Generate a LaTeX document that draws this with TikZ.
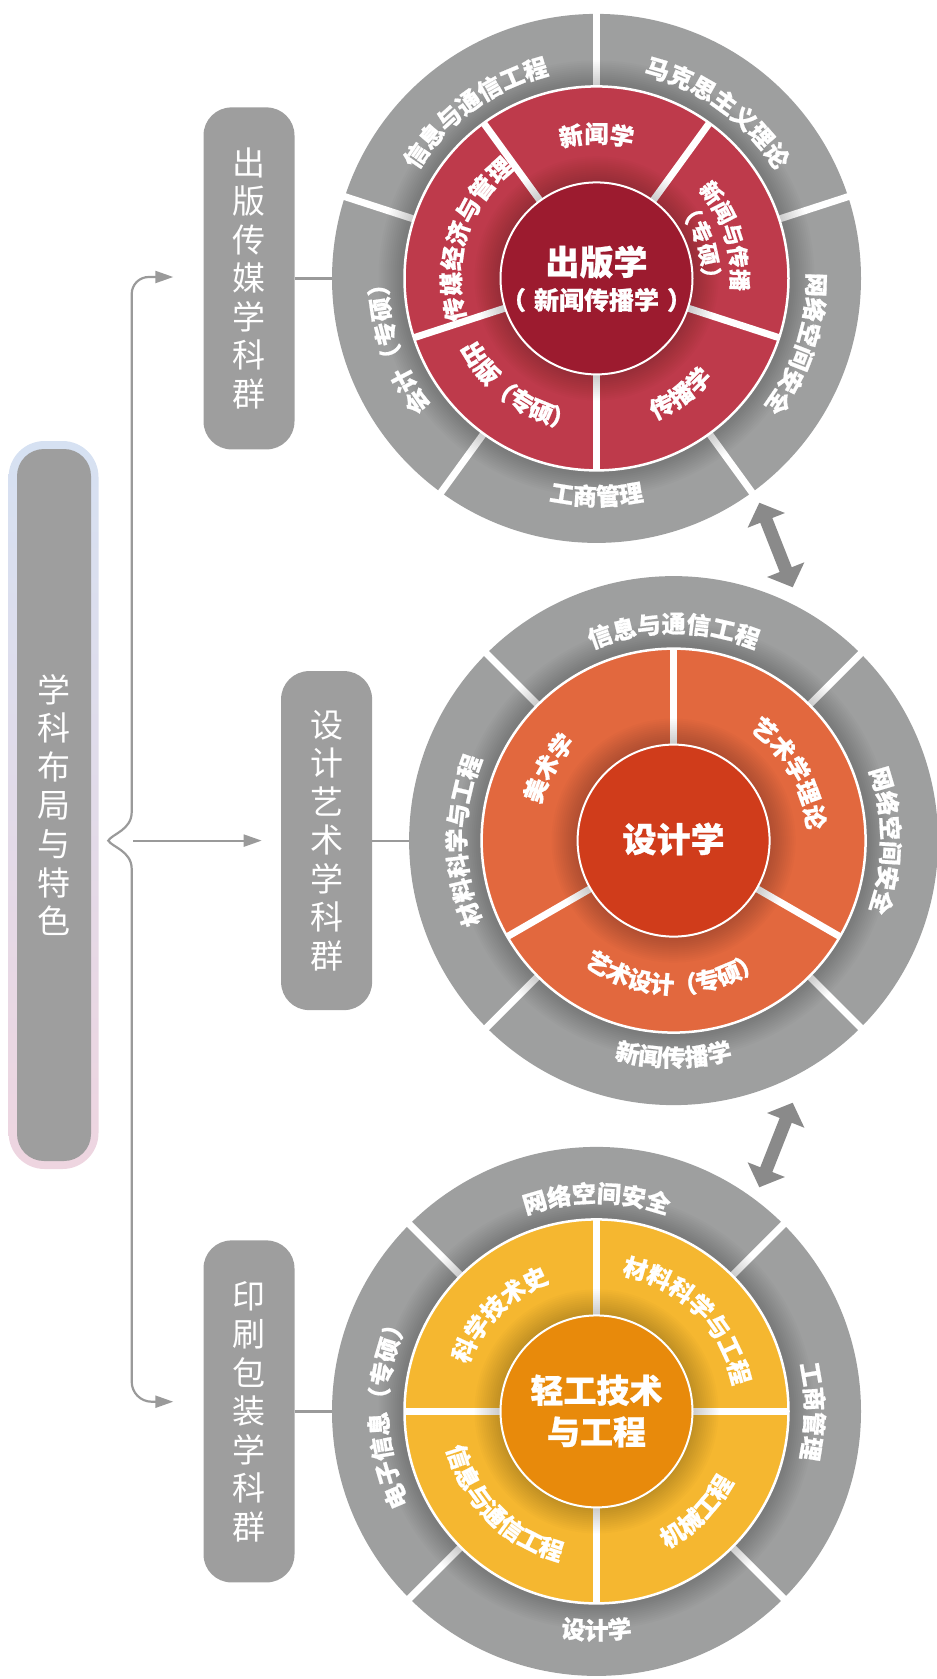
\documentclass[tikz,border=0pt]{standalone}
\usepackage{fontspec}
\setmainfont[Kerning=Off,BoldFeatures={FakeBold=0.8}]{Noto Sans CJK SC}
\usetikzlibrary{arrows.meta,decorations.text,calc}
\definecolor{ringgray}{RGB}{158,159,159}
\definecolor{redring}{RGB}{190,58,75}
\definecolor{redcore}{RGB}{156,27,47}
\definecolor{orring}{RGB}{226,104,62}
\definecolor{orcore}{RGB}{208,60,27}
\definecolor{yering}{RGB}{245,183,48}
\definecolor{yecore}{RGB}{232,138,11}
\definecolor{boxgray}{RGB}{158,158,158}
\definecolor{linegray}{RGB}{154,154,154}
\definecolor{arrgray}{RGB}{138,138,138}
\definecolor{barblue}{RGB}{214,225,242}
\definecolor{barpink}{RGB}{238,213,224}
\newcommand\rlab{\fontsize{24}{24}\selectfont\bfseries\color{white}}
\newcommand\rlabs{\fontsize{22}{22}\selectfont\bfseries\color{white}}
\newcommand\cwlab[6][\rlab]{\path[shift={(#2)},decorate,decoration={text along path,text align=center,text={|#1|#6}}] (#3+#4:#5) arc[start angle=#3+#4,end angle=#3-#4,radius=#5];}
\newcommand\ccwlab[6][\rlab]{\path[shift={(#2)},decorate,decoration={text along path,text align=center,text={|#1|#6}}] (#3-#4:#5) arc[start angle=#3-#4,end angle=#3+#4,radius=#5];}
\newcommand\ringshadow[2]{\foreach \w in {4,8,...,52}{\draw[black,opacity=0.016,line width=\w pt] (#1) circle[radius=#2];}}
\newcommand\seps[4]{\foreach \a in {#2}{\draw[white,line width=7pt] ($(#1)+(\a:#3)$) -- ($(#1)+(\a:#4)$);}}
\tikzset{
  sidebox/.style={fill=boxgray,rounded corners=28pt,minimum width=91pt,minimum height=342pt,inner sep=0pt,text=white,align=center,font=\fontsize{33}{38.5}\selectfont},
  outerdisc/.style={circle,fill=ringgray,minimum size=529pt,inner sep=0pt},
  conn/.style={linegray,line width=2.2pt},
  tip/.style={-{Triangle[length=18pt,width=12pt]}},
  dblarrow/.style={arrgray,line width=13pt,{Triangle[length=19pt,width=39pt]}-{Triangle[length=19pt,width=39pt]}},
  corefont/.style={text=white,font=\fontsize{33}{33}\selectfont\bfseries,inner sep=0pt,align=center}
}
\begin{document}
\begin{tikzpicture}[x=1pt,y=1pt]
\useasboundingbox (0,0) rectangle (937,-1679);
\coordinate (ctop) at (596.5,-278.4);
\coordinate (cmid) at (673.6,-840.6);
\coordinate (cbot) at (596.5,-1411.4);

% ---------- main bar ----------
\shade[top color=barblue,bottom color=barpink,rounded corners=36pt] (8.6,-441) rectangle (98.5,-1169);
\node[fill=boxgray,rounded corners=27pt,minimum width=74pt,minimum height=712pt,inner sep=0pt,text=white,align=center,font=\fontsize{33}{38.6}\selectfont] (main) at (54,-805) {学\\科\\布\\局\\与\\特\\色};

% ---------- side boxes ----------
\node[sidebox] (g1) at (249,-278.4) {出\\版\\传\\媒\\学\\科\\群};
\node[sidebox,minimum height=339pt] (g2) at (326.6,-840.6) {设\\计\\艺\\术\\学\\科\\群};
\node[sidebox] (g3) at (249,-1411.4) {印\\刷\\包\\装\\学\\科\\群};

% ---------- circles ----------
\node[outerdisc] (o1) at (ctop) {};
\seps{ctop}{90,18,-54,-126,162}{185}{270}
\ringshadow{ctop}{192}
\fill[redring,draw=white,line width=2.5pt] (ctop) circle[radius=192];
\seps{ctop}{126,54,-18,-90,198}{90}{192}
\ringshadow{ctop}{96}
\fill[redcore,draw=white,line width=2pt] (ctop) circle[radius=96];

\node[outerdisc] (o2) at (cmid) {};
\seps{cmid}{45,135,225,315}{185}{270}
\ringshadow{cmid}{192}
\fill[orring,draw=white,line width=2.5pt] (cmid) circle[radius=192];
\seps{cmid}{90,-30,210}{90}{192}
\ringshadow{cmid}{96}
\fill[orcore,draw=white,line width=2pt] (cmid) circle[radius=96];

\node[outerdisc] (o3) at (cbot) {};
\seps{cbot}{45,135,225,315}{185}{270}
\ringshadow{cbot}{192}
\fill[yering,draw=white,line width=2.5pt] (cbot) circle[radius=192];
\seps{cbot}{90,0,-90,180}{90}{192}
\ringshadow{cbot}{96}
\fill[yecore,draw=white,line width=2pt] (cbot) circle[radius=96];

% ---------- ring labels ----------
\cwlab{ctop}{126}{34}{209}{信息与通信工程}
\cwlab{ctop}{54}{34}{209}{马克思主义理论}
\cwlab{ctop}{-18}{34}{211}{网络空间安全}
\ccwlab{ctop}{-90}{34}{227}{工商管理}
\cwlab{ctop}{198}{34}{209}{会计（专硕）}
\cwlab{ctop}{90}{34}{135.5}{新闻学}
\cwlab[\rlabs]{ctop}{18}{34}{135}{新闻与传播}
\cwlab[\rlabs]{ctop}{18}{34}{106}{（专硕）}
\ccwlab{ctop}{-54}{34}{153}{传播学}
\ccwlab{ctop}{-126}{34}{153}{出版（专硕）}
\cwlab{ctop}{162}{36}{136.5}{传媒经济与管理}

\cwlab{cmid}{90}{43}{208}{信息与通信工程}
\cwlab{cmid}{0}{43}{208}{网络空间安全}
\ccwlab{cmid}{270}{43}{226}{新闻传播学}
\cwlab{cmid}{180}{43}{208}{材料科学与工程}
\cwlab{cmid}{30}{58}{134}{艺术学理论}
\cwlab{cmid}{150}{58}{138}{美术学}
\ccwlab{cmid}{270}{58}{153}{艺术设计（专硕）}

\cwlab{cbot}{90}{43}{209}{网络空间安全}
\cwlab{cbot}{0}{43}{209}{工商管理}
\ccwlab{cbot}{270}{43}{228}{设计学}
\cwlab{cbot}{180}{43}{209}{电子信息（专硕）}
\cwlab{cbot}{135}{43}{137}{科学技术史}
\cwlab{cbot}{45}{43}{139}{材料科学与工程}
\ccwlab{cbot}{-45}{43}{154}{机械工程}
\ccwlab{cbot}{225}{43}{154}{信息与通信工程}

% ---------- core labels ----------
\node[corefont,font=\fontsize{34}{34}\selectfont\bfseries] (k1) at (596.5,-262) {出版学};
\node[corefont,font=\fontsize{25}{25}\selectfont\bfseries] (k1b) at (596.5,-300) {\mbox{（}\hspace{8pt}新闻传播学\hspace{8pt}\mbox{）}};
\node[corefont,font=\fontsize{34}{34}\selectfont\bfseries] (k2) at (673.6,-839) {设计学};
\node[corefont,font=\fontsize{33}{41.5}\selectfont\bfseries] (k3) at (596.5,-1411) {轻工技术\\与工程};

% ---------- connectors ----------
\draw[conn] (g1.east) -- (o1.west);
\draw[conn] (g2.east) -- (o2.west);
\draw[conn] (g3.east) -- (o3.west);

\coordinate (bt) at (131.7,-812);
\coordinate (bx) at (108.3,-840.6);
\coordinate (bb) at (131.7,-869);
\coordinate (a1) at (173.3,-277);
\coordinate (m0) at (133.3,-840.6);
\coordinate (a2) at (261.7,-840.6);
\coordinate (a3) at (173.3,-1401.7);
\draw[conn] (bt) .. controls (131.7,-830) and (112,-834) .. (bx) .. controls (112,-847) and (131.7,-851) .. (bb);
\draw[conn,tip,rounded corners=17pt] (bt) -- (131.7,-277) -- (a1);
\draw[conn,tip,rounded corners=20pt] (bb) -- (131.7,-1401.7) -- (a3);
\draw[conn,tip] (m0) -- (a2);

% ---------- double arrows ----------
\coordinate (d1) at (759.3,-502.7);
\coordinate (d2) at (792.7,-587.3);
\coordinate (d3) at (792.7,-1102.7);
\coordinate (d4) at (759.3,-1187.3);
\draw[dblarrow] (d1) -- (d2);
\draw[dblarrow] (d3) -- (d4);
\end{tikzpicture}
\end{document}
